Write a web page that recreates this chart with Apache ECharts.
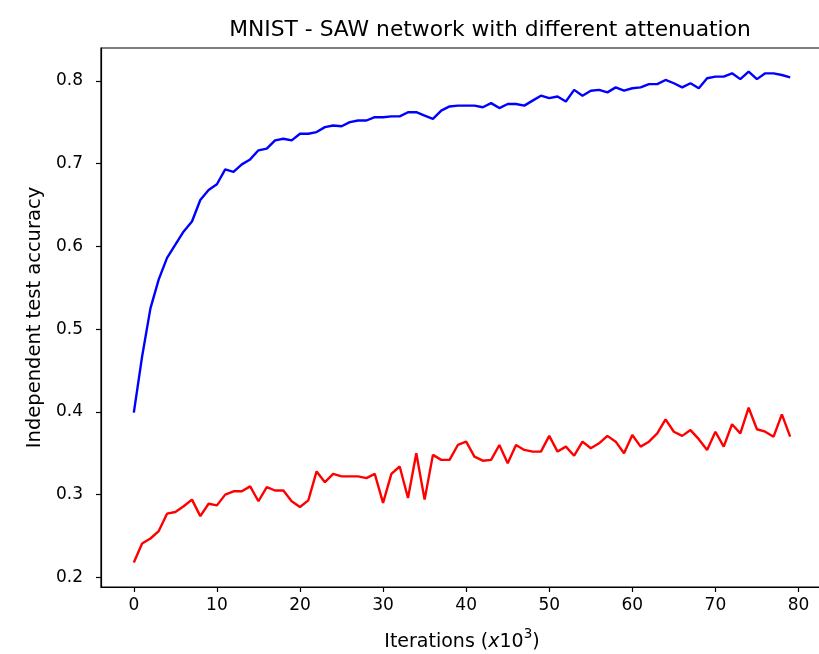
<!DOCTYPE html>
<html>
<head>
<meta charset="utf-8">
<script src="https://cdn.jsdelivr.net/npm/echarts@6/dist/echarts.min.js"></script>
<style>
  html, body { margin: 0; padding: 0; background: #fff; }
  #chart { width: 819px; height: 654px; }
</style>
</head>
<body>
<div id="chart"></div>
<script>
// Iteration index (thousands of iterations)
const iterations = Array.from({ length: 80 }, (_, i) => i);

// Independent test accuracy, low attenuation network
const accBlue = [
  0.399, 0.467, 0.525, 0.560, 0.586, 0.602, 0.618, 0.630, 0.656, 0.668,
  0.675, 0.693, 0.690, 0.699, 0.705, 0.716, 0.718, 0.728, 0.730, 0.728,
  0.736, 0.736, 0.738, 0.744, 0.746, 0.745, 0.750, 0.752, 0.752, 0.756,
  0.756, 0.757, 0.757, 0.762, 0.762, 0.758, 0.754, 0.764, 0.769, 0.770,
  0.770, 0.770, 0.768, 0.773, 0.767, 0.772, 0.772, 0.770, 0.776, 0.782,
  0.779, 0.781, 0.775, 0.789, 0.782, 0.788, 0.789, 0.786, 0.792, 0.788,
  0.791, 0.792, 0.796, 0.796, 0.801, 0.797, 0.792, 0.797, 0.791, 0.803,
  0.805, 0.805, 0.809, 0.802, 0.811, 0.802, 0.809, 0.809, 0.807, 0.804
];

// Independent test accuracy, high attenuation network
const accRed = [
  0.218, 0.241, 0.247, 0.256, 0.277, 0.279, 0.286, 0.294, 0.274, 0.289,
  0.287, 0.300, 0.304, 0.304, 0.310, 0.292, 0.309, 0.305, 0.305, 0.292,
  0.285, 0.293, 0.328, 0.315, 0.325, 0.322, 0.322, 0.322, 0.320, 0.325,
  0.290, 0.325, 0.334, 0.296, 0.350, 0.294, 0.348, 0.342, 0.342, 0.360,
  0.364, 0.346, 0.341, 0.342, 0.360, 0.338, 0.360, 0.354, 0.352, 0.352,
  0.371, 0.352, 0.358, 0.347, 0.364, 0.356, 0.362, 0.371, 0.364, 0.350,
  0.372, 0.358, 0.364, 0.374, 0.391, 0.376, 0.371, 0.378, 0.367, 0.354,
  0.376, 0.358, 0.385, 0.374, 0.405, 0.379, 0.376, 0.370, 0.397, 0.370
];

// Tick positions
const xTicks = [0, 10, 20, 30, 40, 50, 60, 70, 80];
const yTicks = [0.2, 0.3, 0.4, 0.5, 0.6, 0.7, 0.8];

const FONT = 'DejaVu Sans';

const toPairs = (vals) => vals.map((v, i) => [iterations[i], v]);

const chart = echarts.init(document.getElementById('chart'), null, { renderer: 'canvas' });

chart.setOption({
  backgroundColor: '#ffffff',
  animation: false,
  title: {
    text: 'MNIST - SAW network with different attenuation',
    left: 485,
    textAlign: 'center',
    top: 14,
    textStyle: { fontFamily: FONT, fontSize: 21.8, fontWeight: 'normal', color: '#000' }
  },
  grid: {
    left: 101, top: 48, width: 722, height: 539,
    outerBoundsMode: 'none',
    show: true, borderColor: '#000', borderWidth: 1.2, backgroundColor: 'transparent'
  },
  xAxis: {
    type: 'value',
    min: -3.95, max: 82.95,
    name: '{a|Iterations (}{i|x}{a|10}{s|3}{a|)}',
    nameLocation: 'middle',
    nameGap: 40,
    nameTextStyle: {
      rich: {
        a: { fontFamily: FONT, fontSize: 19, color: '#000', lineHeight: 25, verticalAlign: 'bottom' },
        i: { fontFamily: FONT, fontSize: 19, fontStyle: 'italic', color: '#000', lineHeight: 25, verticalAlign: 'bottom' },
        s: { fontFamily: FONT, fontSize: 13.5, color: '#000', lineHeight: 25, verticalAlign: 'top' }
      }
    },
    axisLine: { show: true, onZero: false, lineStyle: { color: '#000', width: 1.2 } },
    axisTick: { show: true, length: 5, customValues: xTicks, lineStyle: { color: '#000', width: 1.2 } },
    axisLabel: { customValues: xTicks, fontFamily: FONT, fontSize: 17, color: '#000', margin: 10 },
    splitLine: { show: false }
  },
  yAxis: {
    type: 'value',
    min: 0.1884, max: 0.8396,
    name: 'Independent test accuracy',
    nameLocation: 'middle',
    nameGap: 56,
    nameTextStyle: { fontFamily: FONT, fontSize: 19.5, color: '#000' },
    axisLine: { show: true, onZero: false, lineStyle: { color: '#000', width: 1.2 } },
    axisTick: { show: true, length: 5, customValues: yTicks, lineStyle: { color: '#000', width: 1.2 } },
    axisLabel: {
      customValues: yTicks, fontFamily: FONT, fontSize: 17, color: '#000', margin: 18,
      formatter: (v) => v.toFixed(1)
    },
    splitLine: { show: false }
  },
  series: [
    {
      type: 'line', data: toPairs(accBlue), showSymbol: false,
      lineStyle: { color: '#0000ff', width: 2.4 }, itemStyle: { color: '#0000ff' }
    },
    {
      type: 'line', data: toPairs(accRed), showSymbol: false,
      lineStyle: { color: '#ff0000', width: 2.4 }, itemStyle: { color: '#ff0000' }
    }
  ]
});
</script>
</body>
</html>
